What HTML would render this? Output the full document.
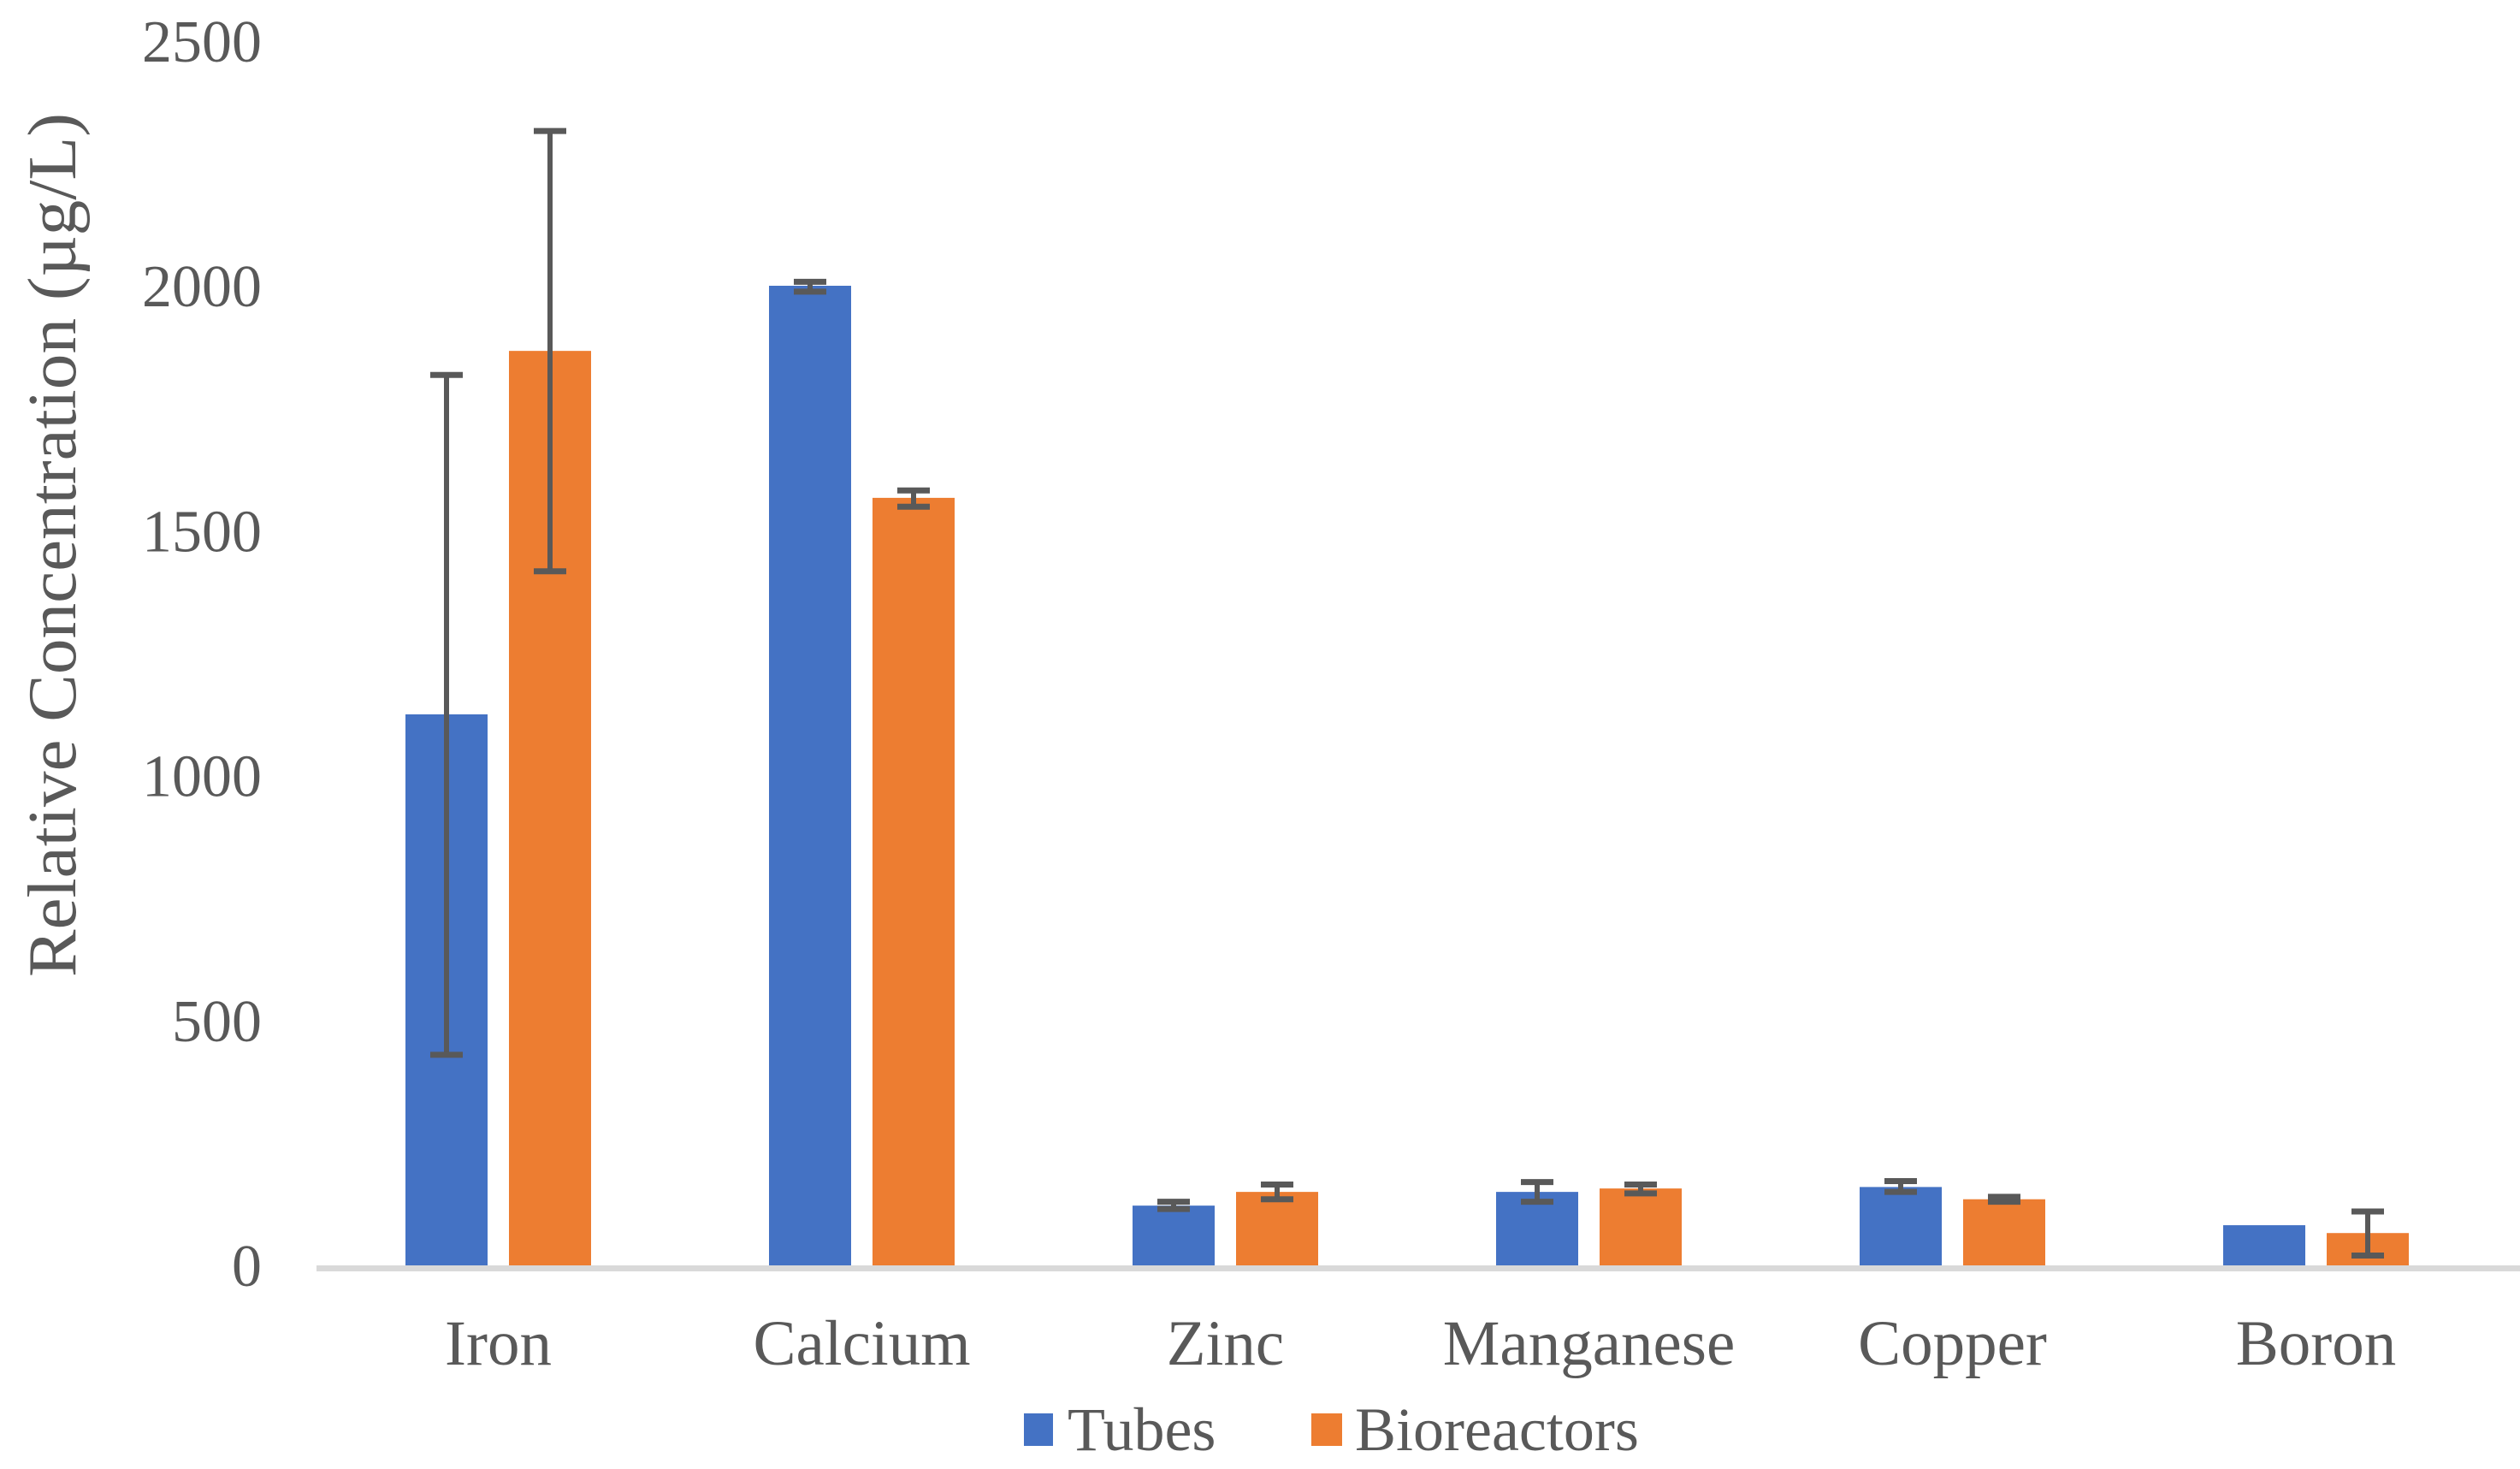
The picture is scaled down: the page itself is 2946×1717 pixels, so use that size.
<!DOCTYPE html>
<html><head><meta charset="utf-8"><style>
html,body{margin:0;padding:0;background:#fff;}
svg{display:block;}
text{font-family:"Liberation Serif",serif;fill:#595959;}
</style></head><body>
<svg id="chart" width="2946" height="1717" viewBox="0 0 2946 1717">
<g id="yticks"></g>
<g id="bars"></g>
<g id="errs"></g>
<rect x="370" y="1479" width="2576" height="7" fill="#d9d9d9"/>
<g id="xlabels"></g>
<text x="0" y="0" transform="translate(88,637) rotate(-90)" text-anchor="middle" font-size="80" textLength="1010" lengthAdjust="spacingAndGlyphs">Relative Concentration (µg/L)</text>
<g>
<g>
<rect x="1197" y="1652" width="34" height="38" fill="#4472c4"/>
<text x="1248" y="1695" font-size="72">Tubes</text>
</g>
<g>
<rect x="1533" y="1652" width="36" height="38" fill="#ed7d31"/>
<text x="1584" y="1695" font-size="72">Bioreactors</text>
</g>
</g>
</svg>
<script>
const categories = ["Iron","Calcium","Zinc","Manganese","Copper","Boron"];
const tubes = [1125, 2000, 122, 150, 160, 82];
const tubesLow = [430, 1988, 115, 130, 150, 82];
const tubesHigh = [1818, 2008, 130, 170, 172, 82];
const bio = [1867, 1567, 150, 157, 135, 66];
const bioLow = [1417, 1549, 135, 147, 130, 20];
const bioHigh = [2316, 1582, 165, 165, 140, 110];
const yTicks = [0, 500, 1000, 1500, 2000, 2500];

const NS = "http://www.w3.org/2000/svg";
const y0 = 1479, pxPerUnit = 0.5725, x0 = 370, catW = 425, barW = 96, gap = 25;
function yScale(v){ return y0 - v * pxPerUnit; }
function catCenter(i){ return x0 + catW * (i + 0.5); }
function mk(tag, attrs, parent){ const e = document.createElementNS(NS, tag); for (const k in attrs) e.setAttribute(k, attrs[k]); parent.appendChild(e); return e; }

const gT = document.getElementById('yticks');
yTicks.forEach(t => {
  const e = mk('text', {x: 306, y: yScale(t) + 24, 'text-anchor': 'end', 'font-size': 70}, gT);
  e.textContent = t;
  
  
});

const gB = document.getElementById('bars'), gE = document.getElementById('errs'), gX = document.getElementById('xlabels');
function errBar(cx, lo, hi){
  const g = mk('g', {}, gE);
  
  
  mk('line', {x1: cx, x2: cx, y1: yScale(hi), y2: yScale(lo), stroke: '#595959', 'stroke-width': 6}, g);
  mk('line', {x1: cx - 19, x2: cx + 19, y1: yScale(hi), y2: yScale(hi), stroke: '#595959', 'stroke-width': 7}, g);
  mk('line', {x1: cx - 19, x2: cx + 19, y1: yScale(lo), y2: yScale(lo), stroke: '#595959', 'stroke-width': 7}, g);
}
categories.forEach((c, i) => {
  const cx = catCenter(i);
  const xt = cx - gap / 2 - barW, xb = cx + gap / 2;
  const r1 = mk('rect', {x: xt, y: yScale(tubes[i]), width: barW, height: y0 - yScale(tubes[i]), fill: '#4472c4'}, gB);
  
  
  const r2 = mk('rect', {x: xb, y: yScale(bio[i]), width: barW, height: y0 - yScale(bio[i]), fill: '#ed7d31'}, gB);
  
  
  if (tubesHigh[i] > tubesLow[i]) errBar(xt + barW / 2, tubesLow[i], tubesHigh[i]);
  errBar(xb + barW / 2, bioLow[i], bioHigh[i]);
  const t = mk('text', {x: cx, y: 1595, 'text-anchor': 'middle', 'font-size': 75}, gX);
  t.textContent = c;
  
  
});
</script>
</body></html>
